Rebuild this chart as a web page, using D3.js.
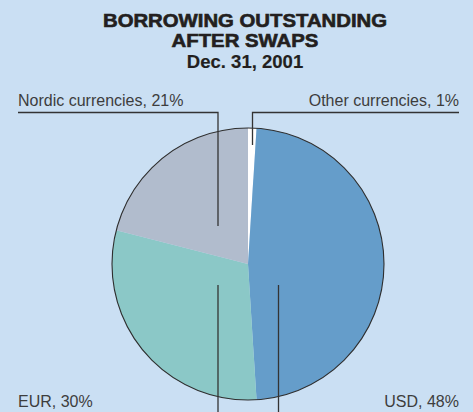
<!DOCTYPE html>
<html>
<head>
<meta charset="utf-8">
<script src="https://cdn.jsdelivr.net/npm/d3@7"></script>
<style>
  html, body { margin: 0; padding: 0; background: #cadff3; }
  svg { display: block; }
</style>
</head>
<body>
<svg id="chart" width="473" height="412"></svg>
<script>
// Currency breakdown of borrowing outstanding after swaps, Dec. 31, 2001
const categories = ["Other currencies", "USD", "EUR", "Nordic currencies"];
const shares = [1, 48, 30, 21];
const sliceColors = ["#ffffff", "#659dca", "#8bc8c7", "#b1bccd"];
const titleLines = ["BORROWING OUTSTANDING", "AFTER SWAPS", "Dec. 31, 2001"];

const W = 473, H = 412;
const cx = 248, cy = 264, R = 136;
const FONT = "'Liberation Sans', Arial, Helvetica, sans-serif";

const svg = d3.select("#chart");

svg.append("rect").attr("width", W).attr("height", H).attr("fill", "#cadff3");

// Title: the two heading lines are set wide and heavy, the date in plain bold
const titleStyle = [
  { sx: 1.13, stroke: 0.6 },
  { sx: 1.13, stroke: 0.6 },
  { sx: 1.03, stroke: 0.15 }
];
titleLines.forEach((t, i) => {
  svg.append("text")
    .attr("transform", `translate(245,${26.5 + i * 20.5}) scale(${titleStyle[i].sx},1)`)
    .attr("text-anchor", "middle")
    .attr("font-family", FONT)
    .attr("font-size", 18)
    .attr("font-weight", "bold")
    .attr("fill", "#231f20")
    .attr("stroke", "#231f20")
    .attr("stroke-width", titleStyle[i].stroke)
    .text(t);
});

// Pie
const data = categories.map((c, i) => ({ name: c, value: shares[i], color: sliceColors[i] }));
const pie = d3.pie().value(d => d.value).sort(null).startAngle(0).endAngle(2 * Math.PI);
const arc = d3.arc().innerRadius(0).outerRadius(R);
const arcs = pie(data);

const g = svg.append("g").attr("transform", `translate(${cx},${cy})`);
g.selectAll("path.slice")
  .data(arcs)
  .join("path")
  .attr("class", "slice")
  .attr("d", arc)
  .attr("fill", d => d.data.color);

// Outer rim
g.append("circle")
  .attr("r", R)
  .attr("fill", "none")
  .attr("stroke", "#2e2e2e")
  .attr("stroke-width", 1.1);

// Leader lines (pixel layout of each label's callout)
const leaders = {
  "Nordic currencies": [[18, 112.5], [218, 112.5], [218, 226]],
  "Other currencies": [[459, 112.5], [252.5, 112.5], [252.5, 145]],
  "EUR": [[218, 285], [218, 412]],
  "USD": [[278.5, 285], [278.5, 412]]
};
const labelPos = {
  "Nordic currencies": { x: 18, y: 105.5, anchor: "start" },
  "Other currencies": { x: 459, y: 105.5, anchor: "end" },
  "EUR": { x: 18, y: 407, anchor: "start" },
  "USD": { x: 459, y: 407, anchor: "end" }
};

const line = d3.line();
data.forEach(d => {
  svg.append("path")
    .attr("d", line(leaders[d.name]))
    .attr("fill", "none")
    .attr("stroke", "#333333")
    .attr("stroke-width", 1.3);
  const p = labelPos[d.name];
  svg.append("text")
    .attr("x", p.x)
    .attr("y", p.y)
    .attr("text-anchor", p.anchor)
    .attr("font-family", FONT)
    .attr("font-size", 16)
    .attr("fill", "#3d3d3d")
    .text(`${d.name}, ${d.value}%`);
});
</script>
</body>
</html>
